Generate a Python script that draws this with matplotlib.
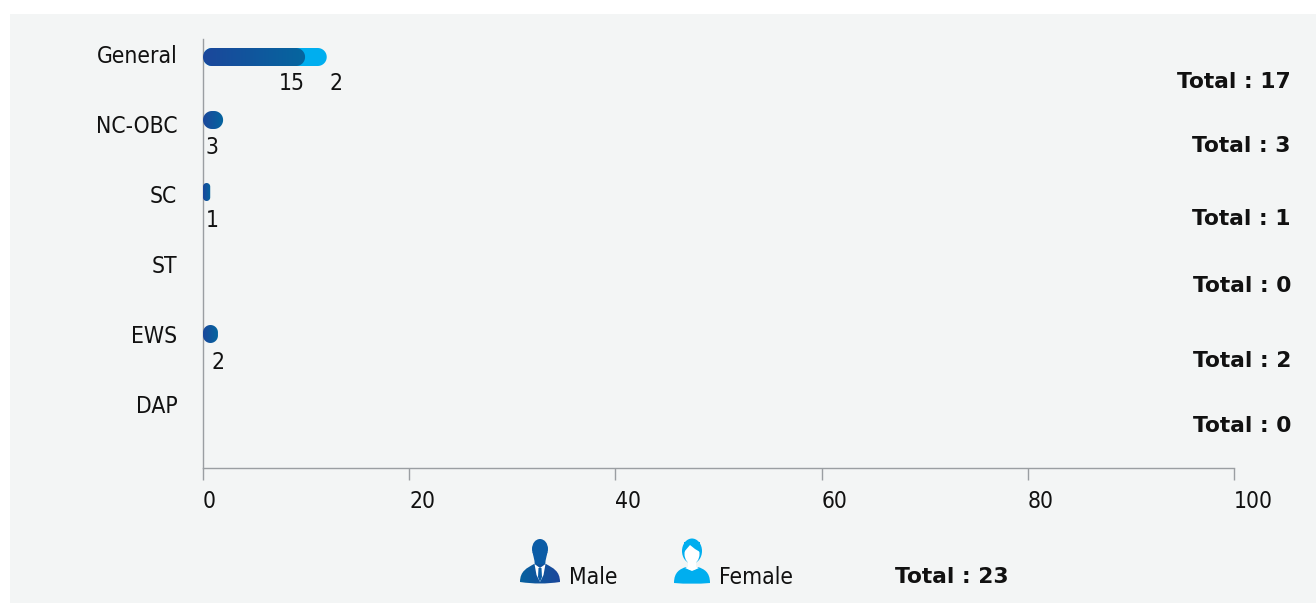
import numpy as np
import matplotlib
matplotlib.use("Agg")
import matplotlib.pyplot as plt
from matplotlib.patches import Rectangle, Ellipse, Polygon, PathPatch
from matplotlib.path import Path
from matplotlib.colors import LinearSegmentedColormap
from matplotlib.font_manager import FontProperties
from matplotlib.transforms import ScaledTranslation

categories = ["General", "NC-OBC", "SC", "ST", "EWS", "DAP"]
male_counts = [15, 3, 1, 0, 2, 0]
female_counts = [2, 0, 0, 0, 0, 0]
totals = [17, 3, 1, 0, 2, 0]
grand_total = 23
# bar lengths as drawn on the 0-100 axis
male_bar = [9.9, 1.95, 0.7, 0, 1.45, 0]
stack_bar = [12.0, 1.95, 0.7, 0, 1.45, 0]
xticks = [0, 20, 40, 60, 80, 100]

W, H = 1316, 603
BG = "#F3F5F5"
INK = "#111111"
reg = FontProperties(family="DejaVu Sans", stretch="condensed", size=16.4)
bold = FontProperties(family="DejaVu Sans", weight="bold", size=15.7)
fig = plt.figure(figsize=(W / 100, H / 100), dpi=100, facecolor="white")

px = fig.add_axes([0, 0, 1, 1], zorder=0)
px.set_xlim(0, W); px.set_ylim(H, 0); px.axis("off")
px.add_patch(Rectangle((10, 14), W - 10, H - 14, fc=BG, ec="none"))

x0, x1, ytop, ybot = 203, 1234, 39, 468
ax = fig.add_axes([x0 / W, 1 - ybot / H, (x1 - x0) / W, (ybot - ytop) / H], zorder=1)
ax.patch.set_alpha(0)
rowh = 70.0
sx = (x1 - x0) / 100.0
ylim = ((ybot - 56) / rowh, (ytop - 56) / rowh)
ax.set_xlim(0, 100)
ax.set_ylim(*ylim)
for s in ("top", "right"):
    ax.spines[s].set_visible(False)
for s in ("left", "bottom"):
    ax.spines[s].set_color("#9A9EA2")
    ax.spines[s].set_linewidth(1.0)
ax.set_yticks(range(len(categories)))
ax.set_yticklabels(categories, color=INK, fontproperties=reg)
ax.tick_params(axis="y", length=0, pad=18.5)
shift_up = ScaledTranslation(0, 2 / 100, fig.dpi_scale_trans)
for lab in ax.get_yticklabels():
    lab.set_transform(lab.get_transform() + shift_up)
ax.set_xticks(xticks)
ax.set_xticklabels([str(t) for t in xticks], ha="left", color=INK, fontproperties=reg)
ax.tick_params(axis="x", length=8.6, width=1.0, color="#9A9EA2", pad=7.5)

cm_male = LinearSegmentedColormap.from_list("m", ["#1B479B", "#05669F"])
cm_icon = LinearSegmentedColormap.from_list("i", ["#06619F", "#1B479B"])
grad = np.linspace(0, 1, 256).reshape(1, -1)


def capsule(x_val, yc, hpx):
    """Pill shape from axis 0 to x_val, in data coordinates, with circular corners."""
    wpx = x_val * sx
    r = min(hpx, wpx) / 2.0
    t = np.linspace(0, np.pi / 2, 14)
    c, s = np.cos(t), np.sin(t)
    hh = hpx / 2.0
    pts = np.vstack([
        np.column_stack([wpx - r + r * s, -hh + r - r * c]),
        np.column_stack([wpx - r + r * c, hh - r + r * s]),
        np.column_stack([r - r * s, hh - r + r * c]),
        np.column_stack([r - r * c, -hh + r - r * s]),
    ])
    return Polygon(np.column_stack([pts[:, 0] / sx, yc + pts[:, 1] / rowh]),
                   closed=True, ec="none", fc="none", transform=ax.transData)


bar_dy = [1, -6, -4, -2, -2, 0]
lab_dy = [25, 19, 22, 19, 24, 0]
tot_dy = [24, 18, 21, 18, 23, 18]
lab_dx = [-13, -11, 2, 0, 0, 0]
for i, cat in enumerate(categories):
    yc = i + bar_dy[i] / rowh
    hpx = 18.0
    if stack_bar[i] > male_bar[i]:
        p = capsule(stack_bar[i], yc, hpx)
        p.set_facecolor("#00AEEF")
        ax.add_patch(p)
    if male_bar[i] > 0:
        p = capsule(male_bar[i], yc, hpx)
        ax.add_patch(p)
        im = ax.imshow(grad, cmap=cm_male, aspect="auto", zorder=3,
                       extent=(0, male_bar[i], yc + hpx / 2 / rowh, yc - hpx / 2 / rowh))
        im.set_clip_path(p)
    px.text(1291, 56 + rowh * i + tot_dy[i], f"Total : {totals[i]}", ha="right",
            va="center_baseline", fontproperties=bold, color=INK)
    ly = i + lab_dy[i] / rowh
    if male_counts[i] > 0:
        ax.text(male_bar[i] + lab_dx[i] / sx, ly, str(male_counts[i]), ha="center",
                va="center_baseline", fontproperties=reg, color=INK, clip_on=False)
    if female_counts[i] > 0:
        ax.text(stack_bar[i] + 9 / sx, ly, str(female_counts[i]), ha="center",
                va="center_baseline", fontproperties=reg, color=INK, clip_on=False)
ax.set_xlim(0, 100)
ax.set_ylim(*ylim)


def smooth(points):
    codes = [Path.MOVETO] + [Path.CURVE4] * (len(points) - 1)
    return Path(points, codes)


def male_icon(cx, top):
    c = "#0B5CA6"
    px.add_patch(Ellipse((cx, top + 10), 16, 20, fc=c, ec="none"))
    px.add_patch(Polygon([(cx - 7.5, top + 13), (cx + 7.5, top + 13), (cx + 5.5, top + 22),
                          (cx + 5, top + 30), (cx - 5, top + 30), (cx - 5.5, top + 22)],
                         fc=c, ec="none"))
    body = PathPatch(smooth([(cx - 20, top + 43),
                             (cx - 20, top + 32), (cx - 13, top + 29), (cx - 6, top + 25),
                             (cx - 2, top + 25), (cx + 2, top + 25), (cx + 6, top + 25),
                             (cx + 13, top + 29), (cx + 20, top + 32), (cx + 20, top + 43),
                             (cx + 6, top + 45), (cx - 6, top + 45), (cx - 20, top + 43)]),
                     fc="none", ec="none")
    px.add_patch(body)
    im = px.imshow(grad, cmap=cm_icon, aspect="auto", zorder=2,
                   extent=(cx - 20, cx + 20, top + 45, top + 23))
    im.set_clip_path(body)
    px.add_patch(Polygon([(cx - 5.5, top + 25), (cx, top + 29), (cx + 5.5, top + 25),
                          (cx + 3.5, top + 36), (cx, top + 43), (cx - 3.5, top + 36)],
                         fc="white", ec="none", zorder=3))
    px.add_patch(Polygon([(cx - 1.5, top + 29), (cx + 1.5, top + 29), (cx + 2, top + 38),
                          (cx, top + 43), (cx - 2, top + 38)], fc=c, ec="none", zorder=4))


def female_icon(cx, top):
    c = "#00AEEF"
    body = PathPatch(smooth([(cx - 18, top + 44),
                             (cx - 18, top + 33), (cx - 12, top + 30), (cx - 6, top + 28),
                             (cx - 3, top + 32), (cx + 3, top + 32), (cx + 6, top + 28),
                             (cx + 12, top + 30), (cx + 18, top + 33), (cx + 18, top + 44),
                             (cx + 6, top + 45), (cx - 6, top + 45), (cx - 18, top + 44)]),
                     fc=c, ec="none", zorder=2)
    px.add_patch(body)
    px.add_patch(Ellipse((cx, top + 12), 20, 25, fc=c, ec="none", zorder=2))
    px.add_patch(Ellipse((cx, top + 15), 15, 20, fc="white", ec="none", zorder=3))
    px.add_patch(Polygon([(cx - 8, top + 13), (cx - 2, top + 6), (cx + 3, top + 10), (cx + 8, top + 13),
                          (cx + 8, top + 3), (cx - 8, top + 3)], fc=c, ec="none", zorder=4))
    px.add_patch(Polygon([(cx - 4, top + 22), (cx + 4, top + 22), (cx + 4, top + 28),
                          (cx + 7, top + 29), (cx, top + 32), (cx - 7, top + 29), (cx - 4, top + 28)],
                         fc="white", ec="none", zorder=3))


male_icon(540, 539)
female_icon(692, 539)
px.set_xlim(0, W); px.set_ylim(H, 0)
px.text(569, 575, "Male", ha="left", va="center_baseline", fontproperties=reg, color=INK)
px.text(719, 575, "Female", ha="left", va="center_baseline", fontproperties=reg, color=INK)
px.text(895, 575, f"Total : {grand_total}", ha="left", va="center_baseline",
        fontproperties=bold, color=INK)

fig.savefig("out.png", dpi=100, facecolor="white")
